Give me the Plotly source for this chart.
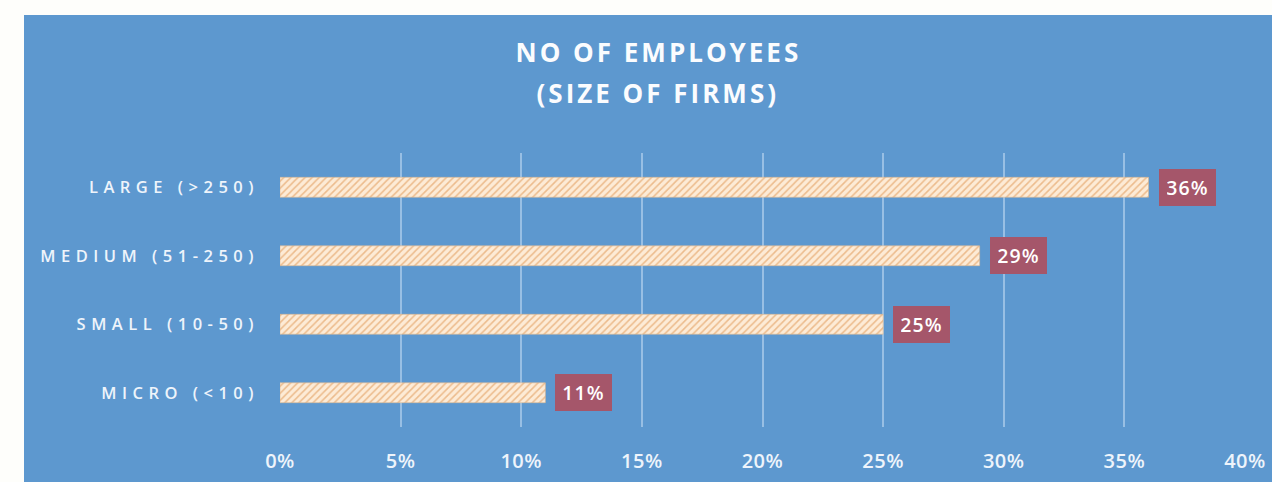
import plotly.graph_objects as go

# --- data -------------------------------------------------------------
categories = ["MICRO (<10)", "SMALL (10-50)", "MEDIUM (51-250)", "LARGE (>250)"]
shares = [11, 25, 29, 36]
value_labels = ["11%", "25%", "29%", "36%"]
x_tick_values = [0, 5, 10, 15, 20, 25, 30, 35, 40]
x_tick_labels = ["0%", "5%", "10%", "15%", "20%", "25%", "30%", "35%", "40%"]
title_lines = ["NO OF EMPLOYEES", "(SIZE OF FIRMS)"]

# --- layout geometry (pixels) ----------------------------------------
W, H = 1272, 482
ML, MR, MT, MB = 280, 27, 153, 55
PW, PH = W - ML - MR, H - MT - MB


def px_x(p):
    return (p - ML) / PW


def px_y(p):
    return (H - MB - p) / PH


PANEL = "#5d98cf"
PAGE = "#fefefb"
GRID = "rgba(185,212,240,0.65)"
TEXT = "#eef4fb"
BADGE = "#a5566a"
FONT = "Open Sans"

fig = go.Figure()

fig.add_trace(go.Bar(
    y=categories,
    x=shares,
    orientation="h",
    width=0.29,
    marker=dict(
        color="#fce8d0",
        line=dict(width=0.6, color="#dcb894"),
        pattern=dict(shape="/", fgcolor="#ecbb8c", bgcolor="#fdebd6",
                     size=5, solidity=0.3, fillmode="replace"),
    ),
    hoverinfo="skip",
    showlegend=False,
))

annotations = []
# two-line heading
for line, yc in zip(title_lines, [52, 93]):
    annotations.append(dict(
        text=line, xref="paper", yref="paper",
        x=px_x(658), y=px_y(yc), xanchor="center", yanchor="middle",
        showarrow=False,
        font=dict(family=FONT, size=26, color="#fbfcfe", weight="bold"),
    ))

# value badges next to each bar
for cat, val, lab in zip(categories, shares, value_labels):
    annotations.append(dict(
        text=lab, x=val, y=cat, xref="x", yref="y",
        xanchor="left", yanchor="middle", xshift=10,
        showarrow=False, bgcolor=BADGE, borderpad=8, borderwidth=0,
        width=41, height=21, align="center",
        font=dict(family=FONT, size=19.5, color="#ffffff", weight=600),
    ))

# white page border at the top and left of the blue panel
shapes = [
    dict(type="rect", xref="paper", yref="paper", layer="below",
         x0=px_x(-5), x1=px_x(24), y0=px_y(H + 5), y1=px_y(-5),
         fillcolor=PAGE, line=dict(width=0)),
    dict(type="rect", xref="paper", yref="paper", layer="below",
         x0=px_x(-5), x1=px_x(W + 5), y0=px_y(15), y1=px_y(-5),
         fillcolor=PAGE, line=dict(width=0)),
]

fig.update_layout(
    width=W, height=H,
    margin=dict(l=ML, r=MR, t=MT, b=MB, pad=0, autoexpand=False),
    paper_bgcolor=PANEL,
    plot_bgcolor="rgba(0,0,0,0)",
    shapes=shapes,
    annotations=annotations,
    xaxis=dict(
        range=[0, 40], tickvals=x_tick_values, ticktext=x_tick_labels,
        showgrid=True, gridcolor=GRID, gridwidth=1.5,
        zeroline=False, showline=False, ticks="",
        ticklabelstandoff=20, automargin=False,
        tickfont=dict(family=FONT, size=20, color=TEXT, weight=600),
        fixedrange=True,
    ),
    yaxis=dict(
        categoryorder="array", categoryarray=categories,
        showgrid=False, zeroline=False, showline=False, ticks="",
        ticklabelstandoff=20, automargin=False,
        tickfont=dict(family=FONT, size=16.5, color=TEXT, weight=600),
        fixedrange=True,
    ),
)

# page reset plus letter spacing for the spaced-out labels
spacing_js = """
document.documentElement.style.margin = '0';
document.documentElement.style.overflow = 'hidden';
document.body.style.margin = '0';
document.body.style.overflow = 'hidden';
document.body.style.background = '#5d98cf';
var gd = document.getElementById('{plot_id}');
gd.querySelectorAll('.ytick text').forEach(function(t){ t.style.letterSpacing = '5.5px'; });
gd.querySelectorAll('.xtick text').forEach(function(t){ t.style.letterSpacing = '0.5px'; });
gd.querySelectorAll('.annotation-text').forEach(function(t, i){
    t.style.letterSpacing = (i < 2) ? '3px' : '1px';
});
"""

fig.write_html("out.html", config={"displayModeBar": False}, post_script=spacing_js)
